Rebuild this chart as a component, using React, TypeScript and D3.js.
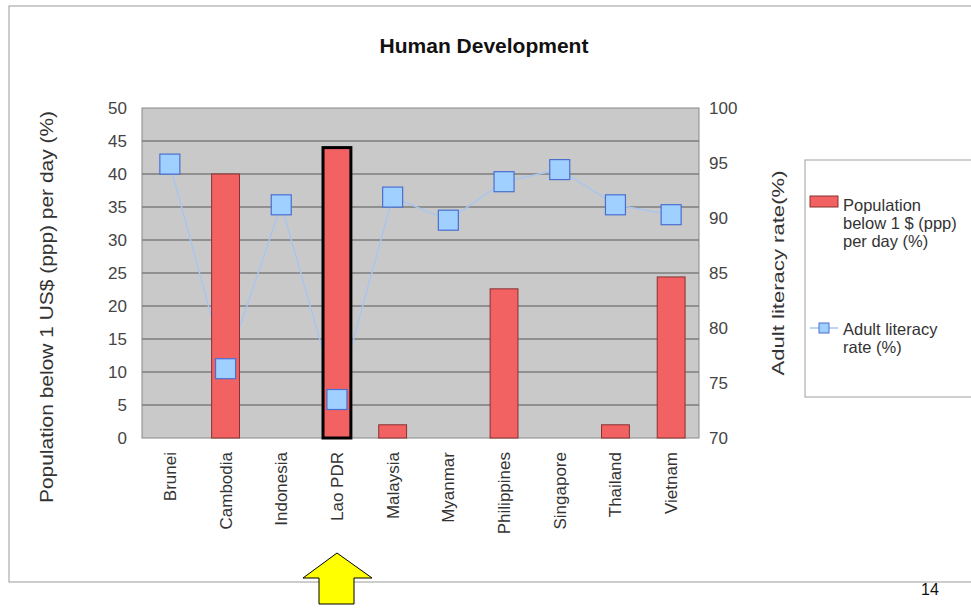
// @ts-nocheck
import React from 'react'
import * as d3 from 'd3'

const categories = ['Brunei', 'Cambodia', 'Indonesia', 'Lao PDR', 'Malaysia', 'Myanmar', 'Philippines', 'Singapore', 'Thailand', 'Vietnam']
const poverty = [null, 40, null, 44, 2, null, 22.6, null, 2, 24.4]
const literacy = [94.9, 76.3, 91.2, 73.5, 91.9, 89.8, 93.3, 94.4, 91.2, 90.3]
const leftTicks = [0, 5, 10, 15, 20, 25, 30, 35, 40, 45, 50]
const rightTicks = [70, 75, 80, 85, 90, 95, 100]
const highlighted = 'Lao PDR'

const font = '"Liberation Sans", Arial, sans-serif'

const App: React.FC = () => {
    const width = 971,
        height = 616
    const plot = { left: 142, right: 699, top: 108, bottom: 438 }

    // scales
    const x = d3.scaleBand(categories, [plot.left, plot.right]).paddingInner(0.5).paddingOuter(0.25)
    const yLeft = d3.scaleLinear([0, 50], [plot.bottom, plot.top])
    const yRight = d3.scaleLinear([70, 100], [plot.bottom, plot.top])

    const step = (plot.right - plot.left) / categories.length
    const cx = (c: string) => plot.left + step * (categories.indexOf(c) + 0.5)
    const barW = x.bandwidth()

    const linePath = d3.line<number>()
        .x((d, i) => cx(categories[i]))
        .y(d => yRight(d))

    return <svg width={width} height={height} style={{ position: 'absolute', left: 0, top: 0, background: '#fff' }} fontFamily={font}>
        {/* outer frame */}
        <rect x={9} y={6} width={width} height={576} fill="none" stroke="#9a9a9a" strokeWidth={1} />

        <text x={484} y={53} textAnchor="middle" fontSize={21} fontWeight="bold" fill="#111">Human Development</text>

        {/* plot background */}
        <rect x={plot.left} y={plot.top} width={plot.right - plot.left} height={plot.bottom - plot.top} fill="#c9c9c9" stroke="#888" />

        {/* gridlines */}
        {leftTicks.slice(1, -1).map(t =>
            <line key={t} x1={plot.left} x2={plot.right} y1={yLeft(t)} y2={yLeft(t)} stroke="#7d7d7d" strokeWidth={1.3} />
        )}

        {/* literacy line (behind bars) */}
        <path d={linePath(literacy)} fill="none" stroke="#a9c6ee" strokeWidth={1.5} />

        {/* bars */}
        {categories.map((c, i) => poverty[i] == null ? null :
            <rect key={c} x={cx(c) - barW / 2} y={yLeft(poverty[i])} width={barW} height={plot.bottom - yLeft(poverty[i])}
                fill="#f26262"
                stroke={c === highlighted ? '#000' : '#8a3030'}
                strokeWidth={c === highlighted ? 3 : 1} />
        )}

        {categories.map((c, i) =>
            <rect key={c} x={cx(c) - 10} y={yRight(literacy[i]) - 10} width={20} height={20}
                fill="#9fd0ff" stroke="#4a6fd0" strokeWidth={1.2} />
        )}

        {/* left axis */}
        {leftTicks.map(t =>
            <text key={t} x={127} y={yLeft(t)} dy="0.35em" textAnchor="end" fontSize={17} fill="#444">{t}</text>
        )}
        <text transform={`translate(53, 307) rotate(-90)`} textAnchor="middle" fontSize={18} fill="#333"
            textLength={392} lengthAdjust="spacingAndGlyphs">
            Population below 1 US$ (ppp) per day (%)
        </text>

        {/* right axis */}
        {rightTicks.map(t =>
            <text key={t} x={709} y={yRight(t)} dy="0.35em" textAnchor="start" fontSize={17} fill="#444">{t}</text>
        )}
        <text transform={`translate(784, 273) rotate(-90)`} textAnchor="middle" fontSize={17} fill="#333"
            textLength={205} lengthAdjust="spacingAndGlyphs">
            Adult literacy rate(%)
        </text>

        {/* category labels */}
        {categories.map(c =>
            <text key={c} transform={`translate(${cx(c) + 6}, 452) rotate(-90)`} textAnchor="end" fontSize={17} fill="#333">{c}</text>
        )}

        {/* legend */}
        <rect x={805} y={160} width={180} height={237} fill="#fff" stroke="#a0a0a0" />
        <rect x={810} y={196} width={28} height={11} fill="#f26262" stroke="#8a3030" />
        <text x={843} y={205} fontSize={16.5} fill="#333" dy="0.35em">
            <tspan x={843}>Population</tspan>
            <tspan x={843} dy={18}>below 1 $ (ppp)</tspan>
            <tspan x={843} dy={18}>per day (%)</tspan>
        </text>
        <line x1={810} x2={838} y1={328} y2={328} stroke="#a9c6ee" strokeWidth={1.5} />
        <rect x={819} y={323} width={10} height={10} fill="#9fd0ff" stroke="#4a6fd0" />
        <text x={843} y={329} fontSize={16.5} fill="#333" dy="0.35em">
            <tspan x={843}>Adult literacy</tspan>
            <tspan x={843} dy={18}>rate (%)</tspan>
        </text>

        {/* arrow */}
        <path d="M337,553 L372,578 L354,578 L354,604 L319,604 L319,578 L303,578 Z" fill="#ffff00" stroke="#000" strokeWidth={1} />

        <text x={930} y={595} textAnchor="middle" fontSize={16} fill="#111">14</text>
    </svg>
}

export default App
